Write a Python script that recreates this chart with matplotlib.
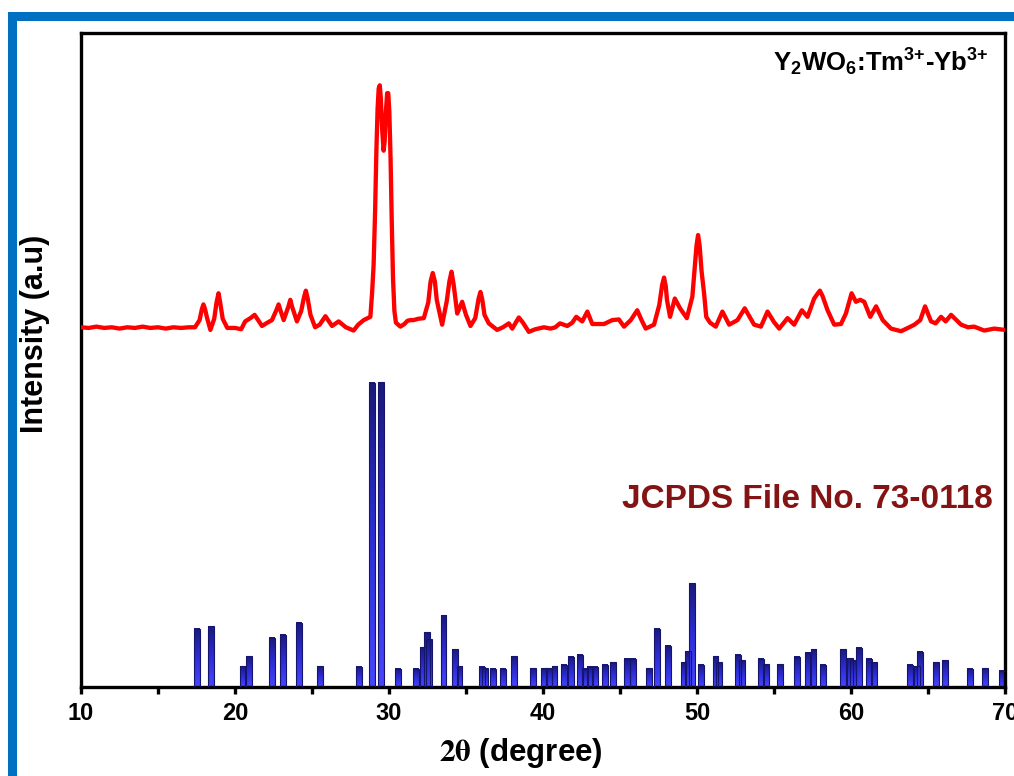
import numpy as np
import matplotlib
matplotlib.use('Agg')
import matplotlib.pyplot as plt
from matplotlib.colors import LinearSegmentedColormap
from matplotlib.patches import Rectangle

plt.rcParams['font.family'] = ['Liberation Sans', 'DejaVu Sans']
plt.rcParams['font.weight'] = 'bold'
plt.rcParams['mathtext.fontset'] = 'custom'
plt.rcParams['mathtext.rm'] = 'Liberation Sans:bold'
plt.rcParams['mathtext.it'] = 'Liberation Sans:bold'
plt.rcParams['mathtext.bf'] = 'Liberation Sans:bold'

# measured XRD pattern (2theta, intensity a.u.)
xrd_2theta = [10.0, 10.5, 11.0, 11.5, 12.0, 12.5, 13.0, 13.5, 14.0, 14.5, 15.0, 15.5,
              16.0, 16.5, 17.0, 17.4, 17.7, 17.85, 17.95, 18.05, 18.2, 18.4, 18.65, 18.8,
              18.93, 19.05, 19.2, 19.5, 20.0, 20.4, 20.66, 21.0, 21.27, 21.5, 21.75, 22.1,
              22.4, 22.7, 22.83, 22.95, 23.16, 23.47, 23.59, 23.7, 24.02, 24.3, 24.47, 24.6,
              24.72, 24.9, 25.2, 25.5, 25.87, 26.3, 26.73, 27.2, 27.7, 28.0, 28.36, 28.79,
              28.9, 29.0, 29.1, 29.18, 29.26, 29.33, 29.4, 29.47, 29.55, 29.65, 29.72, 29.8,
              29.88, 29.95, 30.02, 30.1, 30.18, 30.26, 30.35, 30.45, 30.74, 31.0, 31.2, 31.4,
              31.6, 31.9, 32.26, 32.55, 32.7, 32.84, 32.98, 33.1, 33.45, 33.75, 33.92, 34.06,
              34.2, 34.43, 34.75, 35.0, 35.29, 35.6, 35.82, 35.94, 36.06, 36.2, 36.48, 37.02,
              37.4, 37.78, 38.0, 38.43, 38.7, 39.08, 39.5, 40.06, 40.49, 40.8, 41.1, 41.58,
              41.9, 42.16, 42.55, 42.88, 43.2, 43.6, 43.96, 44.5, 44.93, 45.26, 45.7, 46.12,
              46.4, 46.67, 47.21, 47.55, 47.74, 47.86, 47.97, 48.05, 48.25, 48.56, 48.9, 49.34,
              49.7, 49.85, 49.97, 50.07, 50.17, 50.3, 50.46, 50.6, 50.85, 51.22, 51.65, 52.09,
              52.63, 53.1, 53.71, 54.15, 54.58, 55.0, 55.34, 55.88, 56.31, 56.81, 57.18, 57.61,
              57.85, 57.98, 58.15, 58.48, 58.91, 59.35, 59.67, 60.04, 60.32, 60.6, 60.86, 61.25,
              61.63, 62.06, 62.6, 63.25, 63.7, 64.12, 64.5, 64.81, 65.2, 65.5, 65.85, 66.15,
              66.5, 66.93, 67.15, 67.6, 68.0, 68.65, 69.3, 70.0]
xrd_intensity = [55.0, 54.9, 55.1, 54.9, 55.0, 54.8, 55.0, 54.9, 55.1, 54.9, 55.0, 54.8,
                 55.0, 54.9, 55.0, 55.0, 56.1, 57.8, 58.5, 57.8, 56.3, 54.6, 56.3, 58.8,
                 60.2, 58.6, 56.3, 54.9, 54.9, 54.7, 55.9, 56.4, 56.9, 56.1, 55.2, 55.7,
                 56.1, 57.7, 58.5, 57.6, 56.1, 58.2, 59.2, 58.2, 55.9, 57.5, 59.5, 60.6,
                 59.4, 56.9, 55.0, 55.4, 56.7, 55.2, 55.9, 55.0, 54.5, 55.4, 56.1, 56.6,
                 60.2, 64.5, 73.0, 82.0, 88.5, 91.5, 92.0, 90.0, 85.5, 82.0, 83.5, 88.0,
                 90.8, 90.8, 88.0, 81.0, 71.0, 62.5, 57.5, 55.7, 55.1, 55.5, 56.0, 56.1,
                 56.1, 56.3, 56.4, 58.8, 62.0, 63.3, 62.0, 59.2, 55.4, 59.0, 62.0, 63.5,
                 61.5, 57.1, 58.9, 56.9, 55.2, 56.4, 59.4, 60.4, 59.2, 56.9, 55.6, 54.6,
                 55.0, 55.6, 54.8, 56.5, 55.7, 54.3, 54.7, 55.0, 54.8, 55.0, 55.6, 55.2,
                 55.7, 56.6, 55.9, 57.4, 55.5, 55.5, 55.5, 56.1, 56.2, 55.1, 56.1, 57.6,
                 56.1, 54.8, 55.4, 58.4, 61.5, 62.6, 61.3, 59.2, 56.6, 59.4, 57.9, 56.4,
                 59.7, 64.0, 67.5, 69.1, 67.5, 63.5, 60.2, 56.6, 55.7, 55.1, 57.4, 55.4,
                 56.1, 57.9, 55.4, 55.1, 57.4, 55.8, 54.8, 56.4, 55.4, 57.6, 56.6, 59.4,
                 60.2, 60.6, 59.8, 57.6, 55.4, 55.5, 57.1, 60.2, 58.9, 59.2, 58.9, 56.6,
                 58.2, 56.1, 54.8, 54.4, 54.9, 55.4, 56.1, 58.2, 55.9, 55.6, 56.6, 55.9,
                 56.9, 55.9, 55.4, 55.0, 55.1, 54.5, 54.8, 54.6]

# JCPDS 73-0118 reference lines
ref_2theta = [17.52, 18.43, 20.49, 20.92, 22.42, 23.13, 24.15, 25.54, 28.05, 28.88,
              29.50, 30.61, 31.76, 32.19, 32.45, 32.60, 33.54, 34.27, 34.58, 36.05,
              36.22, 36.74, 37.40, 38.10, 39.37, 40.06, 40.40, 40.75, 41.36, 41.80,
              42.40, 42.72, 43.05, 43.35, 44.00, 44.53, 45.48, 45.85, 46.89, 47.39,
              48.12, 49.12, 49.42, 49.68, 50.24, 51.20, 51.42, 52.67, 52.93, 54.15,
              54.50, 55.40, 56.49, 57.18, 57.57, 58.20, 59.50, 59.96, 60.13, 60.54,
              61.17, 61.52, 63.82, 64.27, 64.49, 65.53, 66.13, 67.74, 68.71, 69.80]
ref_intensity = [8.9, 9.3, 3.2, 4.7, 7.5, 8.0, 9.8, 3.2, 3.1, 46.5,
                 46.6, 2.8, 2.8, 6.1, 8.4, 7.3, 11.0, 5.8, 3.2, 3.1,
                 2.9, 2.8, 2.8, 4.7, 2.9, 2.9, 2.9, 3.2, 3.4, 4.6,
                 4.9, 2.8, 3.1, 3.1, 3.4, 3.8, 4.3, 4.3, 2.9, 8.9,
                 6.3, 3.8, 5.5, 15.9, 3.4, 4.7, 3.8, 4.9, 4.1, 4.3,
                 3.5, 3.5, 4.6, 5.2, 5.8, 3.4, 5.8, 4.4, 4.1, 6.0,
                 4.3, 3.8, 3.4, 3.2, 5.4, 3.8, 4.1, 2.8, 2.9, 2.5]

fig = plt.figure(figsize=(10.14, 7.76), dpi=100)
ax = fig.add_axes([0.0799, 0.1147, 0.9112, 0.8428])

# reference bars with a navy-to-blue shading
bar_cmap = LinearSegmentedColormap.from_list('barblue', ['#4646ff', '#2d2dd6', '#1a1a7a'])
grad = np.linspace(0, 1, 64)[:, None]
bw = 0.38
bars = ax.bar(ref_2theta, ref_intensity, width=bw, facecolor='none',
              edgecolor='#15156e', linewidth=0.8, zorder=3)
for b in bars:
    x0 = b.get_x()
    ax.imshow(grad, extent=[x0, x0 + b.get_width(), 0, b.get_height()], origin='lower',
              cmap=bar_cmap, aspect='auto', zorder=2, interpolation='bilinear')

ax.plot(xrd_2theta, xrd_intensity, color='#ff0000', lw=3.1, solid_joinstyle='round',
        solid_capstyle='round', zorder=4)

ax.set_xlim(10, 70)
ax.set_ylim(0, 100)
ax.set_xticks([10, 20, 30, 40, 50, 60, 70])
ax.set_xticks([15, 25, 35, 45, 55, 65], minor=True)
ax.set_yticks([])
ax.tick_params(axis='x', which='both', direction='out', length=5, width=2.4,
               labelsize=17, pad=6)
for s in ax.spines.values():
    s.set_linewidth(2.4)

ax.set_xlabel(r'$\mathrm{2\theta}$ (degree)', fontsize=22.5, fontweight='bold', math_fontfamily='stix')
ax.xaxis.set_label_coords(0.476, -0.075)
ax.set_ylabel('Intensity (a.u)', fontsize=22, fontweight='bold', ha='center', va='center')
ax.yaxis.set_label_coords(-0.0498, 0.54)

ax.text(0.982, 0.955, r'Y$_2$WO$_6$:Tm$^{3{+}}$-Yb$^{3{+}}$', transform=ax.transAxes,
        ha='right', va='center', fontsize=18.5, fontweight='bold', color='black')
ax.text(0.987, 0.286, 'JCPDS File No. 73-0118', transform=ax.transAxes,
        ha='right', va='center', fontsize=24, fontweight='bold', color='#841414')

# blue frame (left and top edges)
W, H = 1014, 776
fig.add_artist(Rectangle((8 / W, 0), 9 / W, (H - 12) / H, transform=fig.transFigure,
                         color='#0070c0', lw=0))
fig.add_artist(Rectangle((8 / W, (H - 21) / H), 1 - 8 / W, 9 / H, transform=fig.transFigure,
                         color='#0070c0', lw=0))

fig.savefig('out.png', dpi=100)
